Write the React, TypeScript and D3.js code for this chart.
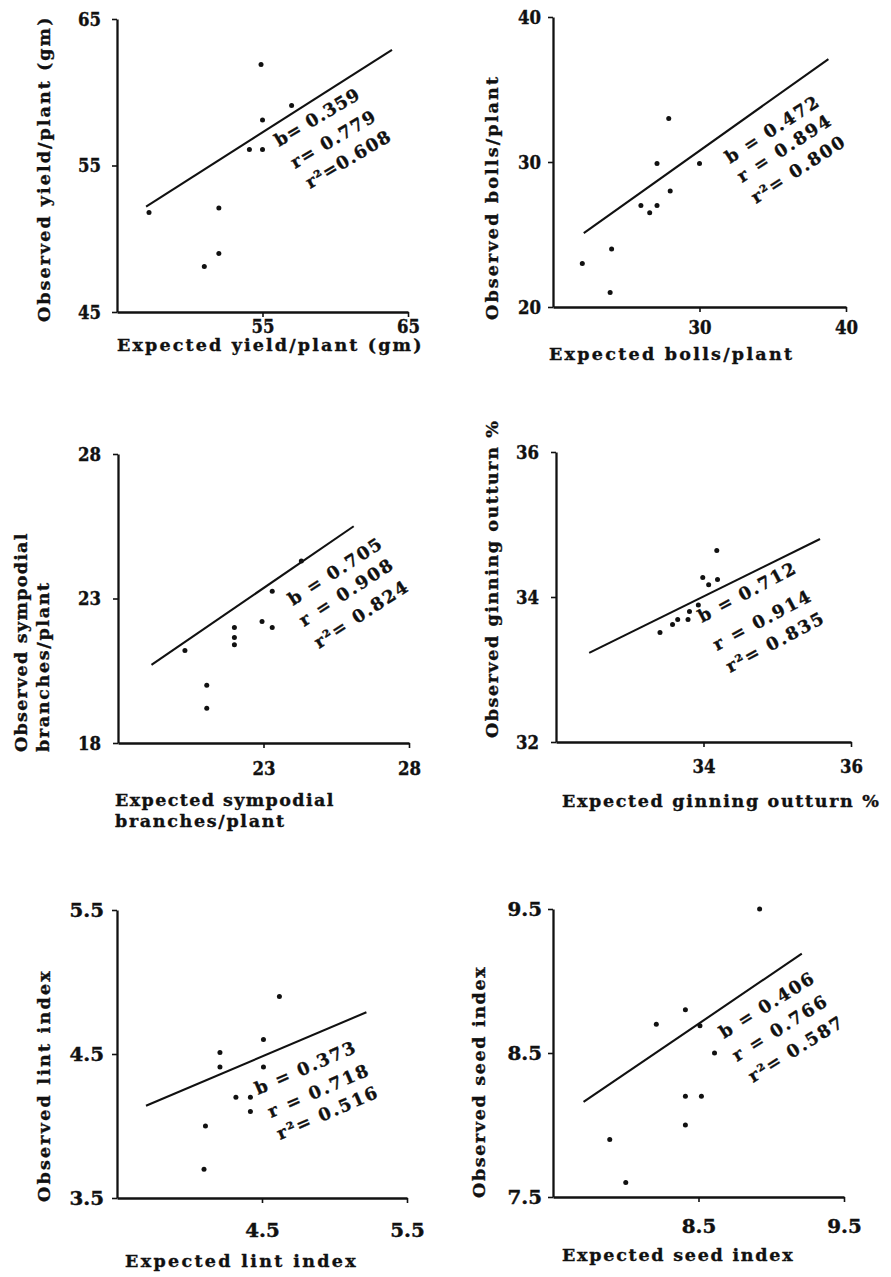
import React, { useEffect, useRef } from "react";
import * as d3 from "d3";

// yield / plant (gm)
const yieldExpected = [47.2, 51.0, 52.0, 52.0, 54.1, 55.0, 55.0, 54.9, 57.0];
const yieldObserved = [51.8, 48.1, 52.1, 49.0, 56.1, 56.1, 58.1, 61.9, 59.1];
const yieldFitX = [47.0, 63.9];
const yieldFitY = [52.2, 62.9];
const yieldTicks = [45, 55, 65];
const yieldStats = ["b= 0.359", "r= 0.779", "r²=0.608"];

// bolls / plant
const bollsExpected = [22.0, 24.0, 23.9, 26.0, 26.6, 27.1, 27.1, 27.9, 28.0, 30.0];
const bollsObserved = [23.0, 24.0, 21.0, 27.0, 26.5, 27.0, 29.9, 33.0, 28.0, 29.9];
const bollsFitX = [22.1, 38.8];
const bollsFitY = [25.1, 37.1];
const bollsTicks = [20, 30, 40];
const bollsStats = ["b = 0.472", "r = 0.894", "r²= 0.800"];

// sympodial branches / plant
const sympExpected = [20.3, 21.05, 21.05, 22.0, 22.0, 22.0, 22.95, 23.3, 23.3, 24.3];
const sympObserved = [21.2, 20.0, 19.2, 22.0, 21.65, 21.4, 22.2, 22.0, 23.25, 24.3];
const sympFitX = [19.15, 26.1];
const sympFitY = [20.7, 25.5];
const sympTicks = [18, 23, 28];
const sympStats = ["b = 0.705", "r = 0.908", "r²= 0.824"];

// ginning outturn %
const ginExpected = [33.41, 33.58, 33.65, 33.79, 33.81, 33.93, 33.99, 34.07, 34.19, 34.18];
const ginObserved = [33.51, 33.62, 33.69, 33.69, 33.8, 33.89, 34.27, 34.17, 34.24, 34.64];
const ginFitX = [32.45, 35.58];
const ginFitY = [33.23, 34.8];
const ginTicks = [32, 34, 36];
const ginStats = ["b = 0.712", "r = 0.914", "r²= 0.835"];

// lint index
const lintExpected = [4.11, 4.1, 4.21, 4.21, 4.32, 4.42, 4.42, 4.51, 4.51, 4.62];
const lintObserved = [4.0, 3.7, 4.51, 4.41, 4.2, 4.2, 4.1, 4.41, 4.6, 4.9];
const lintFitX = [3.7, 5.22];
const lintFitY = [4.14, 4.79];
const lintTicks = [3.5, 4.5, 5.5];
const lintStats = ["b = 0.373", "r = 0.718", "r²= 0.516"];

// seed index
const seedExpected = [7.89, 8.0, 8.21, 8.41, 8.51, 8.61, 8.41, 8.52, 8.41, 8.92];
const seedObserved = [7.9, 7.6, 8.7, 8.8, 8.69, 8.5, 8.2, 8.2, 8.0, 9.5];
const seedFitX = [7.71, 9.21];
const seedFitY = [8.16, 9.19];
const seedTicks = [7.5, 8.5, 9.5];
const seedStats = ["b = 0.406", "r = 0.766", "r²= 0.587"];

const FONT = "'DejaVu Serif', serif";
const PITCH = 12.3;

// where each panel sits on the page
const layouts = [
  {
    xr: [117, 408], yr: [312, 19], xTickY: 21, yTickGap: 16,
    xLab: ["Expected yield/plant (gm)"], xLabPos: [[117, 351]],
    yLab: ["Observed yield/plant (gm)"], yLabPos: [[50, 322]],
    angle: -30.8, statPos: [[279, 147], [295, 169], [310, 189]],
  },
  {
    xr: [553, 846], yr: [307, 17], xTickY: 27, yTickGap: 12,
    xLab: ["Expected bolls/plant"], xLabPos: [[549, 360]],
    yLab: ["Observed bolls/plant"], yLabPos: [[498, 320]],
    angle: -33, statPos: [[730, 164], [742, 183], [756, 204]],
  },
  {
    xr: [118, 409], yr: [743, 454], xTickY: 32, yTickGap: 17,
    xLab: ["Expected sympodial", "branches/plant"], xLabPos: [[115, 806], [115, 827]],
    yLab: ["Observed sympodial", "branches/plant"], yLabPos: [[27, 752], [49, 752]],
    angle: -33, statPos: [[293, 606], [304, 627], [319, 649]],
  },
  {
    xr: [556, 851], yr: [742, 452], xTickY: 31, yTickGap: 17,
    xLab: ["Expected ginning outturn %"], xLabPos: [[562, 807]],
    yLab: ["Observed ginning outturn %"], yLabPos: [[498, 738]],
    angle: -28, statPos: [[702, 623], [717, 651], [730, 673]],
  },
  {
    xr: [117, 407], yr: [1198, 910], xTickY: 39, yTickGap: 13,
    xLab: ["Expected lint index"], xLabPos: [[125, 1267]],
    yLab: ["Observed lint index"], yLabPos: [[50, 1202]],
    angle: -23.5, statPos: [[258, 1095], [271, 1118], [280, 1140]],
  },
  {
    xr: [553, 844], yr: [1197, 909], xTickY: 36, yTickGap: 11,
    xLab: ["Expected seed index"], xLabPos: [[562, 1261]],
    yLab: ["Observed seed index"], yLabPos: [[485, 1198]],
    angle: -32, statPos: [[724, 1039], [737, 1062], [753, 1083]],
  },
];

const panelData = [
  [yieldExpected, yieldObserved, yieldFitX, yieldFitY, yieldTicks, yieldStats],
  [bollsExpected, bollsObserved, bollsFitX, bollsFitY, bollsTicks, bollsStats],
  [sympExpected, sympObserved, sympFitX, sympFitY, sympTicks, sympStats],
  [ginExpected, ginObserved, ginFitX, ginFitY, ginTicks, ginStats],
  [lintExpected, lintObserved, lintFitX, lintFitY, lintTicks, lintStats],
  [seedExpected, seedObserved, seedFitX, seedFitY, seedTicks, seedStats],
] as const;

const App = () => {
  const ref = useRef<SVGSVGElement>(null);

  useEffect(() => {
    const svg = d3.select(ref.current);
    svg.selectAll("*").remove();
    svg.append("rect").attr("width", 891).attr("height", 1277).attr("fill", "#fff");

    panelData.forEach((p, i) => {
      const [xs, ys, fx, fy, ticks, stats] = p as any;
      const L = layouts[i];
      const x = d3.scaleLinear().domain([ticks[0], ticks[2]]).range(L.xr);
      const y = d3.scaleLinear().domain([ticks[0], ticks[2]]).range(L.yr);
      const g = svg.append("g");

      const xAxis = g.append("g")
        .attr("transform", `translate(0,${L.yr[0]})`)
        .call(d3.axisBottom(x).tickValues(ticks.slice(1)).tickSize(5).tickSizeOuter(0).tickFormat((d: any) => String(d)));
      xAxis.selectAll("text").attr("y", L.xTickY).attr("dy", 0);

      const yAxis = g.append("g")
        .attr("transform", `translate(${L.xr[0]},0)`)
        .call(d3.axisLeft(y).tickValues(ticks).tickSize(5).tickSizeOuter(0).tickFormat((d: any) => String(d)));
      yAxis.selectAll("text").attr("x", -L.yTickGap).attr("dy", "0.36em");

      [xAxis, yAxis].forEach((a) => {
        a.select(".domain").attr("stroke", "#111").attr("stroke-width", 2.3);
        a.selectAll(".tick line").attr("stroke", "#111").attr("stroke-width", 1.6);
        a.selectAll("text")
          .attr("fill", "#111")
          .attr("stroke", "#111")
          .attr("stroke-width", 0.4)
          .style("font-family", FONT)
          .style("font-weight", "bold")
          .style("font-size", "18px")
          .attr("textLength", (d: any) => String(d).length * 11.5)
          .attr("lengthAdjust", "spacingAndGlyphs");
      });

      // fitted regression line
      g.append("path")
        .datum(d3.zip(fx, fy))
        .attr("d", d3.line().x((d: any) => x(d[0])).y((d: any) => y(d[1])))
        .attr("stroke", "#111")
        .attr("stroke-width", 2.1)
        .attr("fill", "none");

      g.append("g")
        .selectAll("circle")
        .data(d3.zip(xs, ys))
        .join("circle")
        .attr("cx", (d: any) => x(d[0]))
        .attr("cy", (d: any) => y(d[1]))
        .attr("r", 2.5)
        .attr("fill", "#111");

      const txt = (sel: any, s: string) =>
        sel.text(s)
          .attr("fill", "#111")
          .attr("stroke", "#111")
          .attr("stroke-width", 0.35)
          .style("font-family", FONT)
          .style("font-weight", "bold")
          .style("font-size", "17.5px")
          .attr("textLength", s.length * PITCH - 3)
          .attr("lengthAdjust", "spacing");

      L.xLab.forEach((s, k) => {
        txt(g.append("text").attr("x", L.xLabPos[k][0]).attr("y", L.xLabPos[k][1]), s);
      });
      L.yLab.forEach((s, k) => {
        txt(g.append("text").attr("transform", `translate(${L.yLabPos[k][0]},${L.yLabPos[k][1]}) rotate(-90)`), s);
      });
      stats.forEach((s: string, k: number) => {
        txt(g.append("text").attr("transform", `translate(${L.statPos[k][0]},${L.statPos[k][1]}) rotate(${L.angle})`), s);
      });
    });
  }, []);

  return (
    <svg
      ref={ref}
      width={891}
      height={1277}
      style={{ position: "absolute", left: 0, top: 0, display: "block" }}
    />
  );
};

export default App;
